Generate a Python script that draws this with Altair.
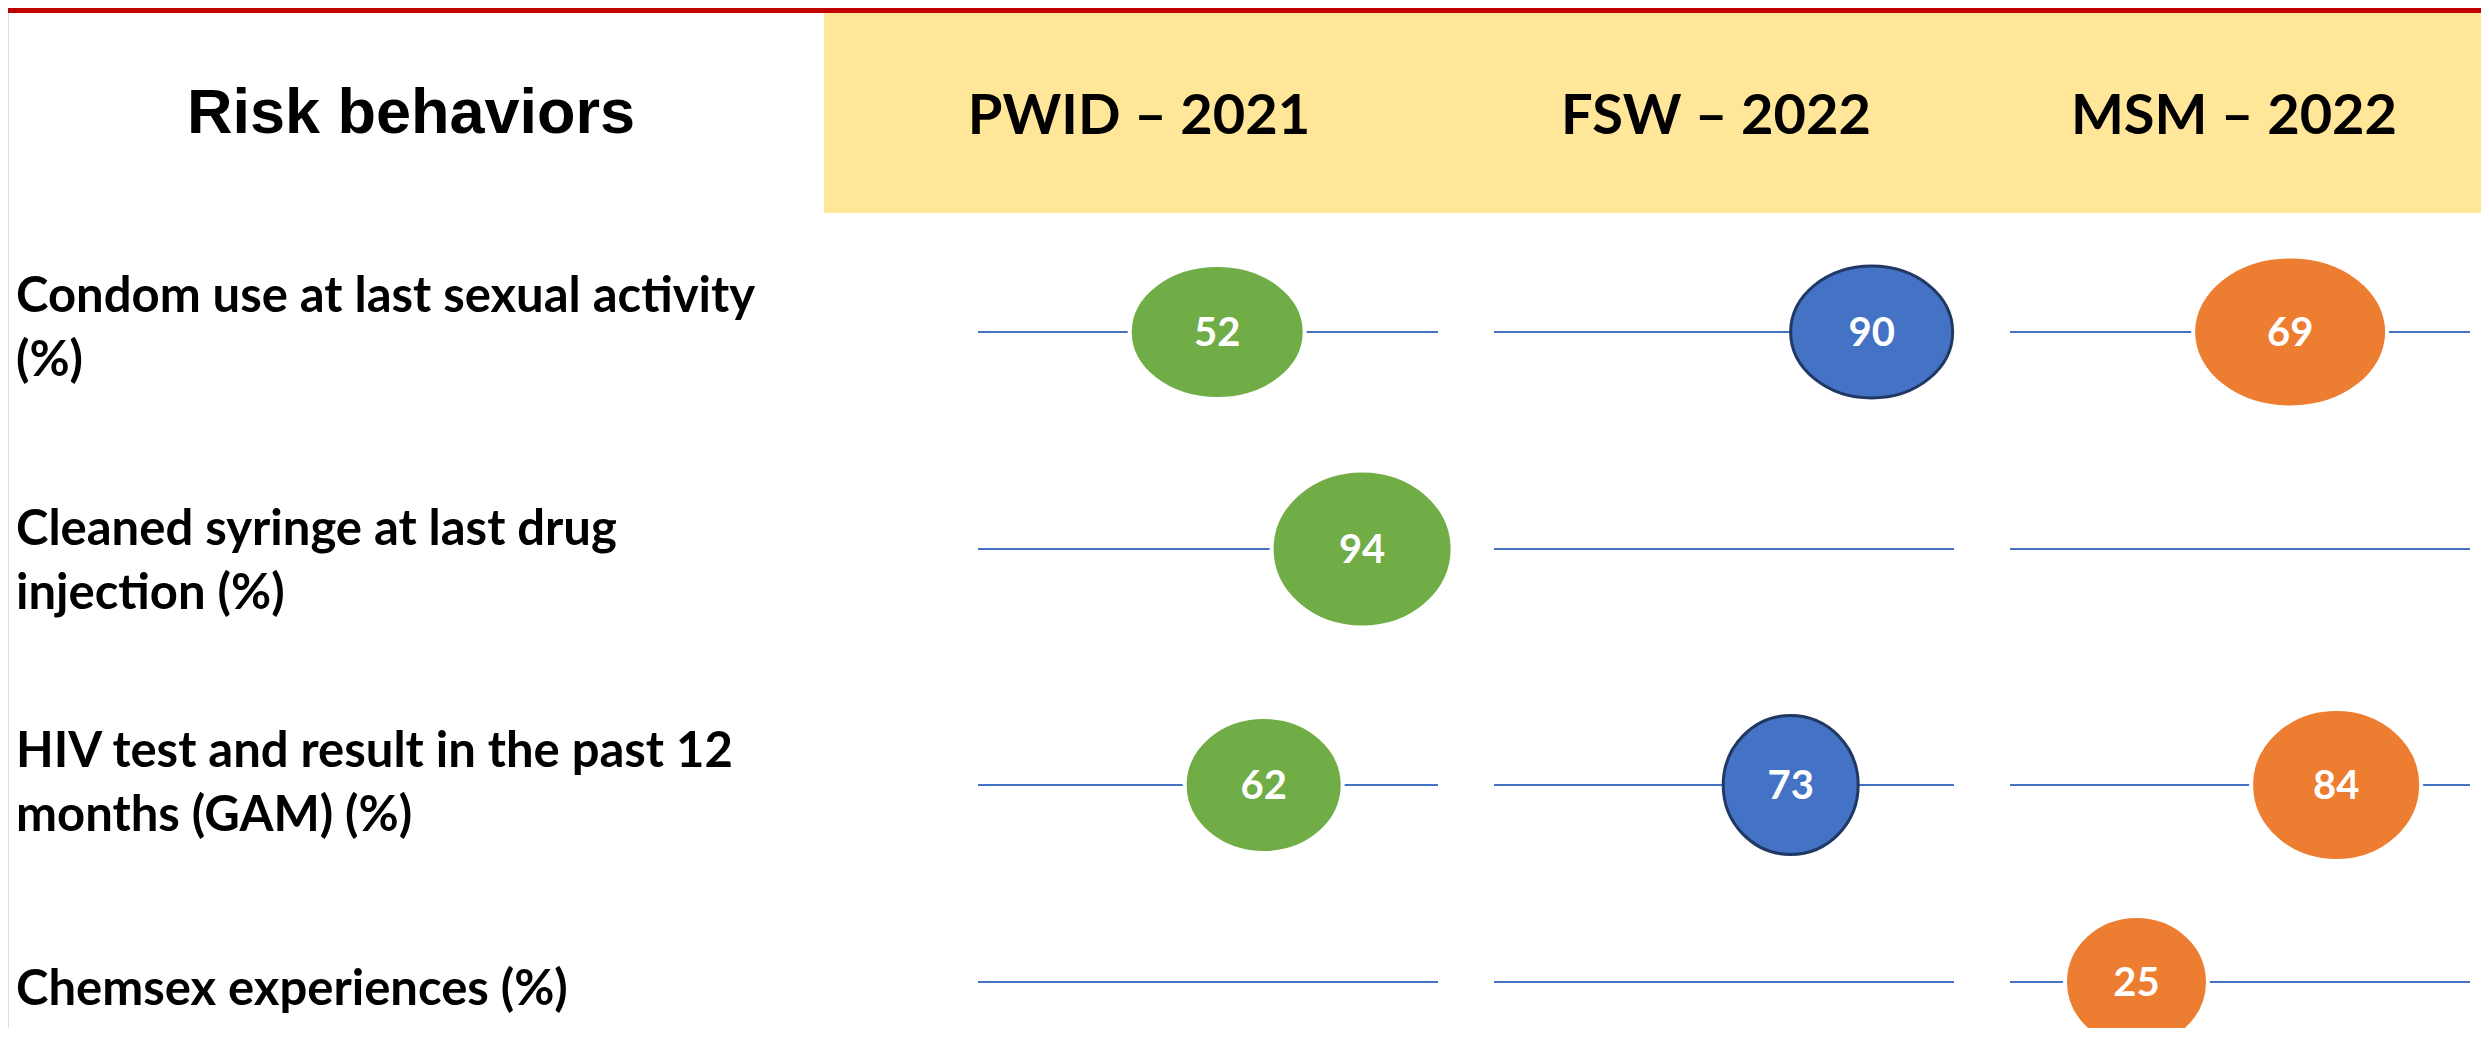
import altair as alt
import pandas as pd

# ---------------- data ----------------
groups = ["PWID – 2021", "FSW – 2022", "MSM – 2022"]
behaviors = [
    "Condom use at last sexual activity\n(%)",
    "Cleaned syringe at last drug\ninjection (%)",
    "HIV test and result in the past 12\nmonths (GAM) (%)",
    "Chemsex experiences (%)",
]
pwid_values = [52, 94, 62, None]
fsw_values = [90, None, 73, None]
msm_values = [69, None, 84, 25]
# where each bubble sits along its 0-100 track
pwid_track = [52.0, 83.5, 62.1, None]
fsw_track = [82.1, None, 64.5, None]
msm_track = [60.9, None, 70.9, 27.5]
title_text = "Risk behaviors"

# ---------------- styles / layout ----------------
W, H = 2473, 1020
PX_PER_UNIT = 4.6
TRACK0_PX = 970          # left end of first track (chart px)
COL_STEP = 516 / PX_PER_UNIT
ROW_PX = [324, 541, 777, 974]
LABEL_DY = [-20, -4, -18, 23]
HEADER_X = [1131, 1708, 2226]
GROUP_COLORS = ["#70AD47", "#4472C4", "#ED7D31"]
LINE_COLOR = "#4472C4"
OUTLINE = "#203864"
# visible ellipse width/height in px (shape style)
ELLIPSE_WH = {
    (0, 0): (171, 130), (0, 1): (177, 153), (0, 2): (154, 132),
    (1, 0): (165, 135), (1, 2): (138, 142),
    (2, 0): (190, 147), (2, 2): (166, 148), (2, 3): (139, 128),
}


def ellipse_path(w, h):
    rx, ry, k = w / 2, h / 2, 0.5523
    f = lambda v: f"{v:.2f}"
    return (f"M {f(-rx)} 0 C {f(-rx)} {f(-ry*k)} {f(-rx*k)} {f(-ry)} 0 {f(-ry)} "
            f"C {f(rx*k)} {f(-ry)} {f(rx)} {f(-ry*k)} {f(rx)} 0 "
            f"C {f(rx)} {f(ry*k)} {f(rx*k)} {f(ry)} 0 {f(ry)} "
            f"C {f(-rx*k)} {f(ry)} {f(-rx)} {f(ry*k)} {f(-rx)} 0 Z")


values = [pwid_values, fsw_values, msm_values]
tracks = [pwid_track, fsw_track, msm_track]

bubble_rows = []
for g, grp in enumerate(groups):
    for r in range(len(behaviors)):
        v = values[g][r]
        if v is None:
            continue
        w, h = ELLIPSE_WH[(g, r)]
        outlined = grp.startswith("FSW")
        pw, ph = (w - 3, h - 3) if outlined else (w + 4, h + 4)
        bubble_rows.append({
            "group": grp, "row": r, "value": str(v),
            "xu": g * COL_STEP + tracks[g][r],
            "path": ellipse_path(pw, ph), "outlined": outlined,
        })
bubbles = pd.DataFrame(bubble_rows)

rule_rows = []
for g, grp in enumerate(groups):
    for r in range(len(behaviors)):
        rule_rows.append({"group": grp, "row": r,
                          "x1": g * COL_STEP, "x2": g * COL_STEP + 100})
rules = pd.DataFrame(rule_rows)

x_scale = alt.Scale(domain=[-TRACK0_PX / PX_PER_UNIT, (W - TRACK0_PX) / PX_PER_UNIT],
                    range=[0, W], nice=False, zero=False)
y_scale = alt.Scale(domain=list(range(len(behaviors))), range=ROW_PX, nice=False, zero=False)
fill_scale = alt.Scale(domain=groups, range=GROUP_COLORS)

one = alt.Data(values=[{}])

band = alt.Chart(one).mark_rect(color="#FFE699").encode(
    x=alt.value(816), x2=alt.value(W), y=alt.value(0), y2=alt.value(205))
redbar = alt.Chart(one).mark_rect(color="#C00000").encode(
    x=alt.value(0), x2=alt.value(W), y=alt.value(0), y2=alt.value(5))

title = alt.Chart(one).mark_text(
    text=title_text, font="Liberation Sans", fontWeight="bold", fontSize=63,
    align="center", baseline="alphabetic", color="black"
).encode(x=alt.value(403), y=alt.value(125))

headers = [
    alt.Chart(one).mark_text(
        text=grp, font="Lato", fontWeight="bold", fontSize=56,
        align="center", baseline="alphabetic", color="black"
    ).encode(x=alt.value(HEADER_X[g]), y=alt.value(126))
    for g, grp in enumerate(groups)
]

lines = alt.Chart(rules).mark_rule(color=LINE_COLOR, strokeWidth=2).encode(
    x=alt.X("x1:Q", scale=x_scale, axis=None),
    x2="x2:Q",
    y=alt.Y("row:Q", scale=y_scale, axis=None),
)

def bubble_layer(df, stroke, sw):
    return alt.Chart(df).mark_point(
        filled=True, opacity=1, size=4, stroke=stroke, strokeWidth=sw, strokeOpacity=1
    ).encode(
        x=alt.X("xu:Q", scale=x_scale, axis=None),
        y=alt.Y("row:Q", scale=y_scale, axis=None),
        shape=alt.Shape("path:N", scale=None),
        fill=alt.Fill("group:N", scale=fill_scale, legend=None),
    )

plain = bubble_layer(bubbles[~bubbles["outlined"]], "white", 4)
outl = bubble_layer(bubbles[bubbles["outlined"]], OUTLINE, 3)

nums = alt.Chart(bubbles).mark_text(
    font="Lato", fontWeight="bold", fontSize=40, color="white",
    align="center", baseline="alphabetic", dy=14
).encode(
    x=alt.X("xu:Q", scale=x_scale, axis=None),
    y=alt.Y("row:Q", scale=y_scale, axis=None),
    text="value:N",
)

labels_df = pd.DataFrame({"row": list(range(len(behaviors))), "label": behaviors})
label_layers = [
    alt.Chart(labels_df[labels_df["row"] == r]).mark_text(
        font="Lato", fontWeight="bold", fontSize=49, color="black",
        align="left", baseline="alphabetic", lineBreak="\n", lineHeight=64,
        dy=LABEL_DY[r]
    ).encode(
        x=alt.value(8),
        y=alt.Y("row:Q", scale=y_scale, axis=None),
        text="label:N",
    )
    for r in range(len(behaviors))
]

chart = alt.layer(
    band, redbar, title, *headers, lines, plain, outl, nums, *label_layers
).properties(
    width=W, height=H, padding=0,
    autosize=alt.AutoSizeParams(type="none"),
).configure_view(stroke=None).configure(background="white")

chart.save("out.html", embed_options={"renderer": "svg", "actions": False})
